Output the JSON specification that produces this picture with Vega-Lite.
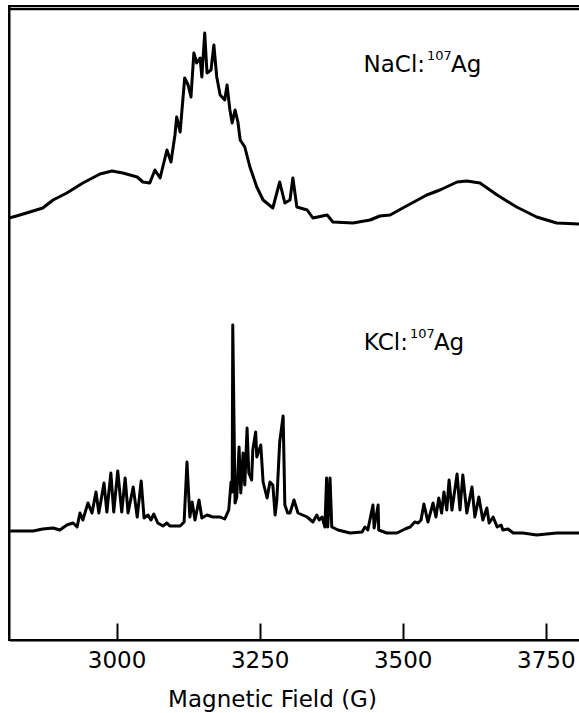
{
  "$schema": "https://vega.github.io/schema/vega-lite/v6.json",
  "width": 572,
  "height": 634,
  "autosize": {"type": "none"},
  "padding": {"left": 9, "top": 6, "right": 0, "bottom": 73},
  "background": "white",
  "config": {"view": {"stroke": "black", "strokeWidth": 2}, "font": "DejaVu Sans"},
  "datasets": {
    "spectra": [
      {"sample":"NaCl","field":2812,"signal":422},{"sample":"NaCl","field":2831,"signal":425},{"sample":"NaCl","field":2854,"signal":429},{"sample":"NaCl","field":2871,"signal":432},{"sample":"NaCl","field":2889,"signal":440},{"sample":"NaCl","field":2913,"signal":447},{"sample":"NaCl","field":2941,"signal":457},{"sample":"NaCl","field":2971,"signal":466},{"sample":"NaCl","field":2992,"signal":469},{"sample":"NaCl","field":3011,"signal":467},{"sample":"NaCl","field":3036,"signal":463},{"sample":"NaCl","field":3046,"signal":458},{"sample":"NaCl","field":3058,"signal":457},{"sample":"NaCl","field":3067,"signal":470},{"sample":"NaCl","field":3076,"signal":462},{"sample":"NaCl","field":3088,"signal":490},{"sample":"NaCl","field":3095,"signal":478},{"sample":"NaCl","field":3102,"signal":505},{"sample":"NaCl","field":3105,"signal":523},{"sample":"NaCl","field":3111,"signal":508},{"sample":"NaCl","field":3119,"signal":562},{"sample":"NaCl","field":3125,"signal":555},{"sample":"NaCl","field":3130,"signal":543},{"sample":"NaCl","field":3135,"signal":587},{"sample":"NaCl","field":3140,"signal":577},{"sample":"NaCl","field":3146,"signal":582},{"sample":"NaCl","field":3149,"signal":563},{"sample":"NaCl","field":3154,"signal":607},{"sample":"NaCl","field":3158,"signal":567},{"sample":"NaCl","field":3165,"signal":570},{"sample":"NaCl","field":3170,"signal":595},{"sample":"NaCl","field":3175,"signal":563},{"sample":"NaCl","field":3181,"signal":545},{"sample":"NaCl","field":3189,"signal":540},{"sample":"NaCl","field":3193,"signal":555},{"sample":"NaCl","field":3198,"signal":530},{"sample":"NaCl","field":3202,"signal":517},{"sample":"NaCl","field":3207,"signal":530},{"sample":"NaCl","field":3212,"signal":518},{"sample":"NaCl","field":3216,"signal":500},{"sample":"NaCl","field":3224,"signal":493},{"sample":"NaCl","field":3233,"signal":473},{"sample":"NaCl","field":3245,"signal":453},{"sample":"NaCl","field":3256,"signal":440},{"sample":"NaCl","field":3273,"signal":432},{"sample":"NaCl","field":3285,"signal":458},{"sample":"NaCl","field":3294,"signal":437},{"sample":"NaCl","field":3303,"signal":440},{"sample":"NaCl","field":3308,"signal":462},{"sample":"NaCl","field":3315,"signal":433},{"sample":"NaCl","field":3333,"signal":430},{"sample":"NaCl","field":3343,"signal":422},{"sample":"NaCl","field":3368,"signal":425},{"sample":"NaCl","field":3378,"signal":418},{"sample":"NaCl","field":3413,"signal":417},{"sample":"NaCl","field":3443,"signal":420},{"sample":"NaCl","field":3460,"signal":424},{"sample":"NaCl","field":3478,"signal":425},{"sample":"NaCl","field":3500,"signal":432},{"sample":"NaCl","field":3542,"signal":445},{"sample":"NaCl","field":3565,"signal":450},{"sample":"NaCl","field":3595,"signal":458},{"sample":"NaCl","field":3612,"signal":459},{"sample":"NaCl","field":3635,"signal":457},{"sample":"NaCl","field":3665,"signal":445},{"sample":"NaCl","field":3699,"signal":433},{"sample":"NaCl","field":3734,"signal":423},{"sample":"NaCl","field":3769,"signal":417},{"sample":"NaCl","field":3811,"signal":416},
      {"sample":"KCl","field":2814,"signal":109},{"sample":"KCl","field":2854,"signal":109},{"sample":"KCl","field":2871,"signal":111},{"sample":"KCl","field":2889,"signal":112},{"sample":"KCl","field":2901,"signal":110},{"sample":"KCl","field":2913,"signal":115},{"sample":"KCl","field":2924,"signal":117},{"sample":"KCl","field":2931,"signal":113},{"sample":"KCl","field":2936,"signal":127},{"sample":"KCl","field":2941,"signal":120},{"sample":"KCl","field":2950,"signal":137},{"sample":"KCl","field":2957,"signal":127},{"sample":"KCl","field":2964,"signal":148},{"sample":"KCl","field":2969,"signal":127},{"sample":"KCl","field":2978,"signal":157},{"sample":"KCl","field":2983,"signal":128},{"sample":"KCl","field":2990,"signal":167},{"sample":"KCl","field":2995,"signal":128},{"sample":"KCl","field":3002,"signal":169},{"sample":"KCl","field":3009,"signal":128},{"sample":"KCl","field":3015,"signal":162},{"sample":"KCl","field":3020,"signal":127},{"sample":"KCl","field":3029,"signal":153},{"sample":"KCl","field":3036,"signal":123},{"sample":"KCl","field":3043,"signal":159},{"sample":"KCl","field":3048,"signal":122},{"sample":"KCl","field":3055,"signal":125},{"sample":"KCl","field":3060,"signal":120},{"sample":"KCl","field":3065,"signal":126},{"sample":"KCl","field":3072,"signal":117},{"sample":"KCl","field":3081,"signal":114},{"sample":"KCl","field":3088,"signal":117},{"sample":"KCl","field":3093,"signal":114},{"sample":"KCl","field":3111,"signal":114},{"sample":"KCl","field":3118,"signal":118},{"sample":"KCl","field":3123,"signal":178},{"sample":"KCl","field":3128,"signal":123},{"sample":"KCl","field":3132,"signal":138},{"sample":"KCl","field":3137,"signal":120},{"sample":"KCl","field":3144,"signal":140},{"sample":"KCl","field":3149,"signal":122},{"sample":"KCl","field":3158,"signal":125},{"sample":"KCl","field":3168,"signal":123},{"sample":"KCl","field":3181,"signal":123},{"sample":"KCl","field":3189,"signal":121},{"sample":"KCl","field":3196,"signal":130},{"sample":"KCl","field":3200,"signal":158},{"sample":"KCl","field":3202,"signal":148},{"sample":"KCl","field":3203,"signal":315},{"sample":"KCl","field":3207,"signal":137},{"sample":"KCl","field":3210,"signal":143},{"sample":"KCl","field":3214,"signal":193},{"sample":"KCl","field":3217,"signal":147},{"sample":"KCl","field":3221,"signal":187},{"sample":"KCl","field":3224,"signal":155},{"sample":"KCl","field":3228,"signal":212},{"sample":"KCl","field":3231,"signal":167},{"sample":"KCl","field":3236,"signal":160},{"sample":"KCl","field":3238,"signal":190},{"sample":"KCl","field":3243,"signal":208},{"sample":"KCl","field":3245,"signal":183},{"sample":"KCl","field":3252,"signal":195},{"sample":"KCl","field":3256,"signal":158},{"sample":"KCl","field":3263,"signal":142},{"sample":"KCl","field":3268,"signal":158},{"sample":"KCl","field":3273,"signal":155},{"sample":"KCl","field":3277,"signal":125},{"sample":"KCl","field":3280,"signal":140},{"sample":"KCl","field":3285,"signal":198},{"sample":"KCl","field":3291,"signal":224},{"sample":"KCl","field":3294,"signal":135},{"sample":"KCl","field":3299,"signal":127},{"sample":"KCl","field":3303,"signal":127},{"sample":"KCl","field":3310,"signal":140},{"sample":"KCl","field":3317,"signal":127},{"sample":"KCl","field":3333,"signal":123},{"sample":"KCl","field":3343,"signal":118},{"sample":"KCl","field":3350,"signal":125},{"sample":"KCl","field":3354,"signal":120},{"sample":"KCl","field":3359,"signal":123},{"sample":"KCl","field":3364,"signal":113},{"sample":"KCl","field":3367,"signal":162},{"sample":"KCl","field":3369,"signal":113},{"sample":"KCl","field":3373,"signal":162},{"sample":"KCl","field":3376,"signal":113},{"sample":"KCl","field":3387,"signal":110},{"sample":"KCl","field":3408,"signal":107},{"sample":"KCl","field":3429,"signal":108},{"sample":"KCl","field":3434,"signal":113},{"sample":"KCl","field":3439,"signal":110},{"sample":"KCl","field":3448,"signal":135},{"sample":"KCl","field":3450,"signal":112},{"sample":"KCl","field":3457,"signal":135},{"sample":"KCl","field":3458,"signal":110},{"sample":"KCl","field":3472,"signal":107},{"sample":"KCl","field":3490,"signal":107},{"sample":"KCl","field":3504,"signal":111},{"sample":"KCl","field":3513,"signal":113},{"sample":"KCl","field":3521,"signal":118},{"sample":"KCl","field":3527,"signal":117},{"sample":"KCl","field":3532,"signal":120},{"sample":"KCl","field":3537,"signal":136},{"sample":"KCl","field":3544,"signal":118},{"sample":"KCl","field":3553,"signal":137},{"sample":"KCl","field":3558,"signal":123},{"sample":"KCl","field":3563,"signal":142},{"sample":"KCl","field":3568,"signal":127},{"sample":"KCl","field":3572,"signal":148},{"sample":"KCl","field":3577,"signal":130},{"sample":"KCl","field":3581,"signal":160},{"sample":"KCl","field":3586,"signal":130},{"sample":"KCl","field":3595,"signal":166},{"sample":"KCl","field":3600,"signal":130},{"sample":"KCl","field":3605,"signal":165},{"sample":"KCl","field":3612,"signal":127},{"sample":"KCl","field":3621,"signal":153},{"sample":"KCl","field":3626,"signal":123},{"sample":"KCl","field":3633,"signal":143},{"sample":"KCl","field":3640,"signal":120},{"sample":"KCl","field":3647,"signal":132},{"sample":"KCl","field":3651,"signal":117},{"sample":"KCl","field":3658,"signal":123},{"sample":"KCl","field":3665,"signal":113},{"sample":"KCl","field":3672,"signal":115},{"sample":"KCl","field":3675,"signal":110},{"sample":"KCl","field":3684,"signal":111},{"sample":"KCl","field":3693,"signal":107},{"sample":"KCl","field":3710,"signal":107},{"sample":"KCl","field":3734,"signal":105},{"sample":"KCl","field":3769,"signal":107},{"sample":"KCl","field":3811,"signal":107}
    ],
    "labels": [
      {"field": 3539, "signal": 568, "host": "NaCl:", "isotope": "107", "element": "Ag"},
      {"field": 3509, "signal": 290, "host": "KCl:", "isotope": "107", "element": "Ag"}
    ]
  },
  "layer": [
    {
      "data": {"name": "spectra"},
      "mark": {"type": "line", "color": "black", "strokeWidth": 3, "strokeJoin": "round", "clip": true},
      "encoding": {
        "x": {
          "field": "field", "type": "quantitative",
          "scale": {"domain": [2812, 3811.5], "nice": false, "zero": false},
          "axis": {
            "title": "Magnetic Field (G)", "values": [3000, 3250, 3500, 3750], "format": "d",
            "grid": false, "tickSize": -17, "tickWidth": 2, "tickColor": "black",
            "domainColor": "black", "domainWidth": 2,
            "labelFont": "DejaVu Sans", "labelFontSize": 23, "labelColor": "black", "labelPadding": 26, "labelFlush": false,
            "titleFont": "DejaVu Sans", "titleFontSize": 23, "titleFontWeight": "normal", "titleColor": "black",
            "titleX": 263, "titleY": 66, "titleBaseline": "alphabetic", "titleAlign": "center", "titleAnchor": "start"
          }
        },
        "y": {
          "field": "signal", "type": "quantitative",
          "scale": {"domain": [0, 634], "nice": false},
          "axis": {"title": null, "labels": false, "ticks": false, "grid": false, "domainColor": "black", "domainWidth": 2}
        },
        "detail": {"field": "sample"}
      }
    },
    {
      "data": {"values": [{"edge": 631}]},
      "mark": {"type": "rule", "color": "black", "strokeWidth": 2.5},
      "encoding": {"y": {"field": "edge", "type": "quantitative"}}
    },
    {
      "data": {"name": "labels"},
      "mark": {"type": "text", "align": "right", "baseline": "alphabetic", "fontSize": 23, "font": "DejaVu Sans", "color": "black"},
      "encoding": {
        "x": {"field": "field", "type": "quantitative"},
        "y": {"field": "signal", "type": "quantitative"},
        "text": {"field": "host"}
      }
    },
    {
      "data": {"name": "labels"},
      "mark": {"type": "text", "align": "left", "baseline": "alphabetic", "fontSize": 13, "font": "DejaVu Sans", "color": "black", "dx": 2, "dy": -12},
      "encoding": {
        "x": {"field": "field", "type": "quantitative"},
        "y": {"field": "signal", "type": "quantitative"},
        "text": {"field": "isotope"}
      }
    },
    {
      "data": {"name": "labels"},
      "mark": {"type": "text", "align": "left", "baseline": "alphabetic", "fontSize": 23, "font": "DejaVu Sans", "color": "black", "dx": 26},
      "encoding": {
        "x": {"field": "field", "type": "quantitative"},
        "y": {"field": "signal", "type": "quantitative"},
        "text": {"field": "element"}
      }
    }
  ]
}
